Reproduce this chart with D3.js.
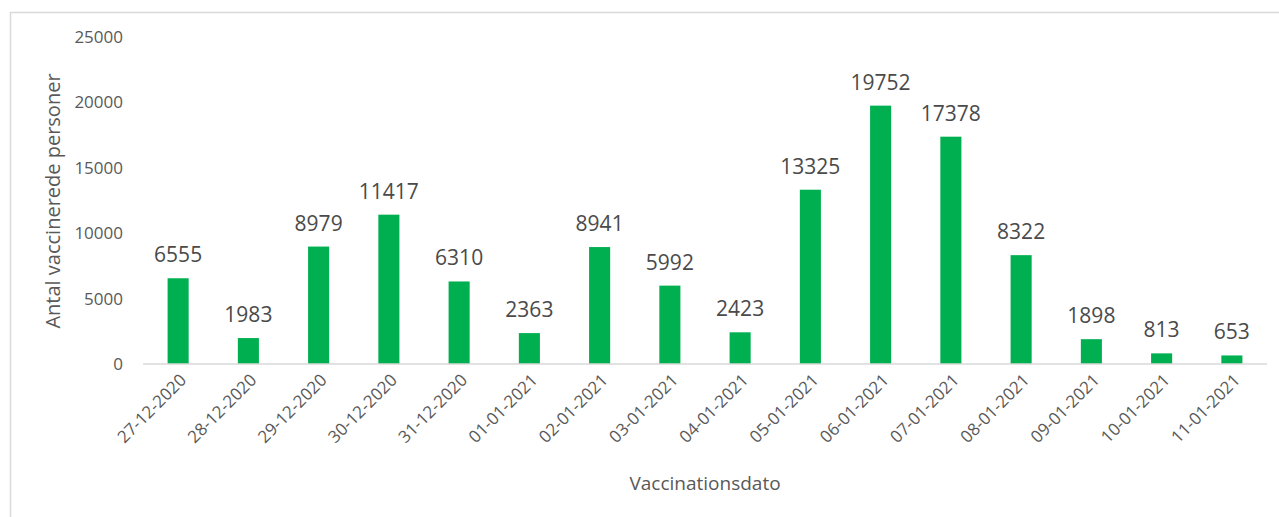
<!DOCTYPE html>
<html>
<head>
<meta charset="utf-8">
<script src="https://cdn.jsdelivr.net/npm/d3@7"></script>
<style>
  html, body { margin: 0; padding: 0; background: #fff; }
  svg { display: block; }
  text { font-family: "Open Sans", "Noto Sans", sans-serif; }
</style>
</head>
<body>
<svg id="chart" width="1279" height="517"></svg>
<script>
const categories = ["27-12-2020","28-12-2020","29-12-2020","30-12-2020","31-12-2020","01-01-2021","02-01-2021","03-01-2021","04-01-2021","05-01-2021","06-01-2021","07-01-2021","08-01-2021","09-01-2021","10-01-2021","11-01-2021"];
const values = [6555,1983,8979,11417,6310,2363,8941,5992,2423,13325,19752,17378,8322,1898,813,653];
const yTicks = [0,5000,10000,15000,20000,25000];
const xTitle = "Vaccinationsdato";
const yTitle = "Antal vaccinerede personer";

const svg = d3.select("#chart");
const W = 1279, H = 517;
const m = {left: 143, right: 12, top: 37, bottom: 153};

// frame
svg.append("rect").attr("x", 10.5).attr("y", 12.5).attr("width", W + 10).attr("height", H + 10)
  .attr("fill", "none").attr("stroke", "#d9d9d9").attr("stroke-width", 1.5);

const x = d3.scaleBand().domain(categories).range([m.left, W - m.right]).paddingInner(0.7).paddingOuter(0.35);
const y = d3.scaleLinear().domain([0, 25000]).range([H - m.bottom, m.top]);

// y axis
const yAxis = svg.append("g").attr("transform", `translate(${m.left},0)`)
  .call(d3.axisLeft(y).tickValues(yTicks).tickSize(0).tickPadding(20).tickFormat(d3.format("d")));
yAxis.select(".domain").remove();
yAxis.selectAll("text").attr("fill", "#595959").style("font-size", "17px");

// bars
svg.append("g").selectAll("rect").data(values).join("rect")
  .attr("x", (d, i) => x(categories[i]))
  .attr("width", x.bandwidth())
  .attr("y", d => y(d))
  .attr("height", d => y(0) - y(d))
  .attr("fill", "#00b050");

// baseline / x axis
const xAxis = svg.append("g").attr("transform", `translate(0,${y(0)})`)
  .call(d3.axisBottom(x).tickSize(0).tickPadding(0));
xAxis.select(".domain").attr("stroke", "#d9d9d9").attr("stroke-width", 1.5)
  .attr("d", `M${m.left},0H${W - m.right}`);
xAxis.selectAll("text")
  .attr("fill", "#595959").style("font-size", "17px")
  .attr("text-anchor", "end")
  .attr("transform", "translate(5,13) rotate(-45)")
  .attr("dy", "0.35em").attr("y", 0).attr("x", 0);

// data labels
svg.append("g").selectAll("text").data(values).join("text")
  .attr("x", (d, i) => x(categories[i]) + x.bandwidth() / 2)
  .attr("y", d => y(d) - 16)
  .attr("text-anchor", "middle")
  .attr("fill", "#4a4a4a")
  .style("font-size", "21px")
  .text(d => d);

// axis titles
svg.append("text").attr("x", 705).attr("y", 490).attr("text-anchor", "middle")
  .attr("fill", "#595959").style("font-size", "19px").text(xTitle);
svg.append("text").attr("transform", `translate(60,201) rotate(-90)`).attr("text-anchor", "middle")
  .attr("fill", "#595959").style("font-size", "20px").text(yTitle);
</script>
</body>
</html>
